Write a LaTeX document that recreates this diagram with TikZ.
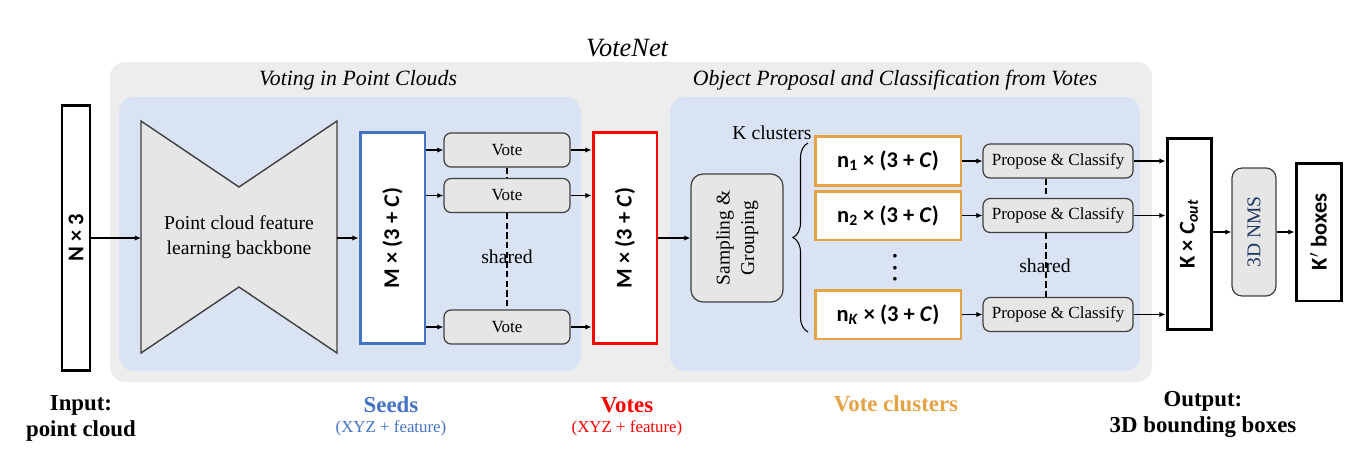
\documentclass[tikz,border=0pt]{standalone}
\usepackage{fontspec}
\setmainfont{Liberation Serif}
\newfontfamily\boxfont{Carlito}
\usepackage{graphicx}
\usepackage{xcolor}
\definecolor{panelgray}{HTML}{EDEDED}
\definecolor{panelblue}{HTML}{DAE3F3}
\definecolor{seedblue}{HTML}{4472C4}
\definecolor{votered}{HTML}{FF0000}
\definecolor{clusterorange}{HTML}{E6A345}
\definecolor{opgray}{HTML}{E6E6E6}
\definecolor{opedge}{HTML}{404040}
\definecolor{nmsnavy}{HTML}{203864}
\usepackage{tikz}
\usetikzlibrary{positioning,arrows.meta,decorations.pathreplacing}
\tikzset{>={Latex[length=3.5pt,width=3pt]}}
\tikzset{
  panel/.style    ={ fill=panelgray, draw=none, rounded corners=0.3cm },
  subpanel/.style ={ fill=panelblue, draw=none, rounded corners=0.3cm },
  tensor/.style   ={ rectangle, draw=black, fill=white, line width=1.7pt, inner sep=0pt,
                     font=\boxfont\bfseries\fontsize{12.8}{14}\selectfont },
  operation/.style={ rectangle, rounded corners=4pt, draw=opedge, fill=opgray, line width=0.7pt,
                     inner sep=0pt, font=\fontsize{9.7}{12}\selectfont },
  flow/.style={->, draw=black, line width=0.6pt},
  share/.style={draw=black, line width=1pt, dash pattern=on 3.5pt off 2pt},
%
  heading/.style   ={ font=\itshape\fontsize{12.4}{14}\selectfont },
  note/.style      ={ font=\fontsize{11.2}{14}\selectfont },
  caption/.style   ={ font=\bfseries\fontsize{13}{14.8}\selectfont, align=center },
  subcaption/.style={ font=\fontsize{9.6}{11}\selectfont }
}

\begin{document}
\begin{tikzpicture}[x=0.02cm,y=-0.02cm]
\useasboundingbox (0,0) rectangle (1356,451);

% panels
\fill[panel]    (110,62) rectangle (1152,382);
\fill[subpanel] (119,97) rectangle (581,371);
\fill[subpanel] (670,97) rectangle (1140,371);
\node[heading, font=\itshape\fontsize{15}{18}\selectfont] (title) at (627,48) {VoteNet};
\node[heading] (vtitle) at (358,80) {Voting in Point Clouds};
\node[heading] (ptitle) at (895,80) {Object Proposal and Classification from Votes};

% input and backbone
\node[tensor, minimum width=0.56cm, minimum height=5.32cm] (pts) at (76,238) {\rotatebox{90}{N × 3}};
\draw[fill=opgray, draw=opedge, line width=0.8pt]
  (141,121) -- (239,187) -- (337,121) -- (337,353) -- (239,287) -- (141,353) -- cycle;
\node[note, align=center] (bb) at (239,237) {Point cloud feature\\learning backbone};
\coordinate (bbw) at (141,238);
\coordinate (bbe) at (337,238);

% seeds and voting
\node[tensor, draw=seedblue, minimum width=1.3cm, minimum height=4.22cm] (seeds) at (392.5,238) {\rotatebox{90}{M × (3 + \textit{C})}};
\node[operation, minimum width=2.52cm, minimum height=0.68cm] (vote1) at (507,150) {Vote};
\node[operation, minimum width=2.52cm, minimum height=0.68cm] (vote2) at (507,195.5) {Vote};
\node[operation, minimum width=2.52cm, minimum height=0.68cm] (vote3) at (507,327) {Vote};
\node[tensor, draw=votered, minimum width=1.28cm, minimum height=4.24cm] (votes) at (625,238) {\rotatebox{90}{M × (3 + \textit{C})}};
\node[note] (shared1) at (507,257) {shared};

\draw[flow] (pts) -- (bbw);
\draw[flow] (bbe) -- (seeds);
\draw[flow] (vote1 -| seeds.east) -- (vote1);
\draw[flow] (vote2 -| seeds.east) -- (vote2);
\draw[flow] (vote3 -| seeds.east) -- (vote3);
\draw[flow] (vote1) -- (vote1 -| votes.west);
\draw[flow] (vote2) -- (vote2 -| votes.west);
\draw[flow] (vote3) -- (vote3 -| votes.west);
\draw[share] (vote1) -- (vote2);
\draw[share] (vote2) -- (vote3);

% grouping and clusters
\node[operation, rounded corners=0.24cm, minimum width=1.84cm, minimum height=2.56cm,
      font=\fontsize{11.1}{14}\selectfont] (sg) at (737,238)
      {\rotatebox{90}{\begin{tabular}{@{}c@{}}Sampling \&\\Grouping\end{tabular}}};
\node[note] (kclu) at (772,133) {K clusters};
\coordinate (brb) at (808,332);
\coordinate (brt) at (808,143);
\draw[decorate, decoration={brace, amplitude=0.3cm}, line width=0.6pt] (brb) -- (brt);

\node[tensor, draw=clusterorange, minimum width=2.92cm, minimum height=0.98cm] (clu1) at (888,161) {n\textsubscript{1} × (3 + \textit{C})};
\node[tensor, draw=clusterorange, minimum width=2.92cm, minimum height=0.98cm] (clu2) at (888,215.5) {n\textsubscript{2} × (3 + \textit{C})};
\node[tensor, draw=clusterorange, minimum width=2.92cm, minimum height=0.98cm] (cluK) at (888,314.5) {n\textsubscript{\textit{K}} × (3 + \textit{C})};
\node[font=\boxfont\bfseries\fontsize{14}{16}\selectfont, inner sep=0pt] (dots) at (895,268) {\rotatebox{90}{.\hspace{2.8pt}.\hspace{2.8pt}.}};

\node[operation, minimum width=3cm, minimum height=0.68cm, right=0.4cm of clu1] (prop1) {Propose \& Classify};
\node[operation, minimum width=3cm, minimum height=0.68cm, right=0.4cm of clu2] (prop2) {Propose \& Classify};
\node[operation, minimum width=3cm, minimum height=0.68cm, right=0.4cm of cluK] (prop3) {Propose \& Classify};
\node[note] (shared2) at (1045,266) {shared};

\draw[flow] (votes) -- (sg);
\draw[flow] (clu1) -- (prop1);
\draw[flow] (clu2) -- (prop2);
\draw[flow] (cluK) -- (prop3);
\draw[share] ([xshift=-0.24cm]prop1.south) -- ([xshift=-0.24cm]prop2.north);
\draw[share] ([xshift=-0.24cm]prop2.south) -- ([xshift=-0.24cm]prop3.north);

% output
\node[tensor, minimum width=0.88cm, minimum height=3.84cm] (kout) at (1189,234) {\rotatebox{90}{K × \textit{C}\textsubscript{\textit{out}}}};
\node[operation, rounded corners=0.2cm, minimum width=0.88cm, minimum height=2.56cm, text=nmsnavy,
      font=\fontsize{11.1}{13}\selectfont] (nms) at (1254,232) {\rotatebox{90}{3D NMS}};
\node[tensor, minimum width=0.9cm, minimum height=2.76cm] (kbox) at (1318.5,232) {\rotatebox{90}{K\kern0.5pt$'$ boxes}};

\draw[flow] (prop1) -- (prop1 -| kout.west);
\draw[flow] (prop2) -- (prop2 -| kout.west);
\draw[flow] (prop3) -- (prop3 -| kout.west);
\draw[flow] (nms -| kout.east) -- (nms);
\draw[flow] (nms) -- (kbox);

% captions
\node[caption] (inlab) at (81,418) {Input:\\point cloud};
\node[caption, text=seedblue] (seedlab) at (391,405) {Seeds};
\node[subcaption, text=seedblue] (seedsub) at (391,428) {(XYZ + feature)};
\node[caption, text=votered] (votelab) at (627,405) {Votes};
\node[subcaption, text=votered] (votesub) at (627,428) {(XYZ + feature)};
\node[caption, text=clusterorange] (clulab) at (896,404) {Vote clusters};
\node[caption] (outlab) at (1203,414) {Output:\\3D bounding boxes};

\end{tikzpicture}
\end{document}
